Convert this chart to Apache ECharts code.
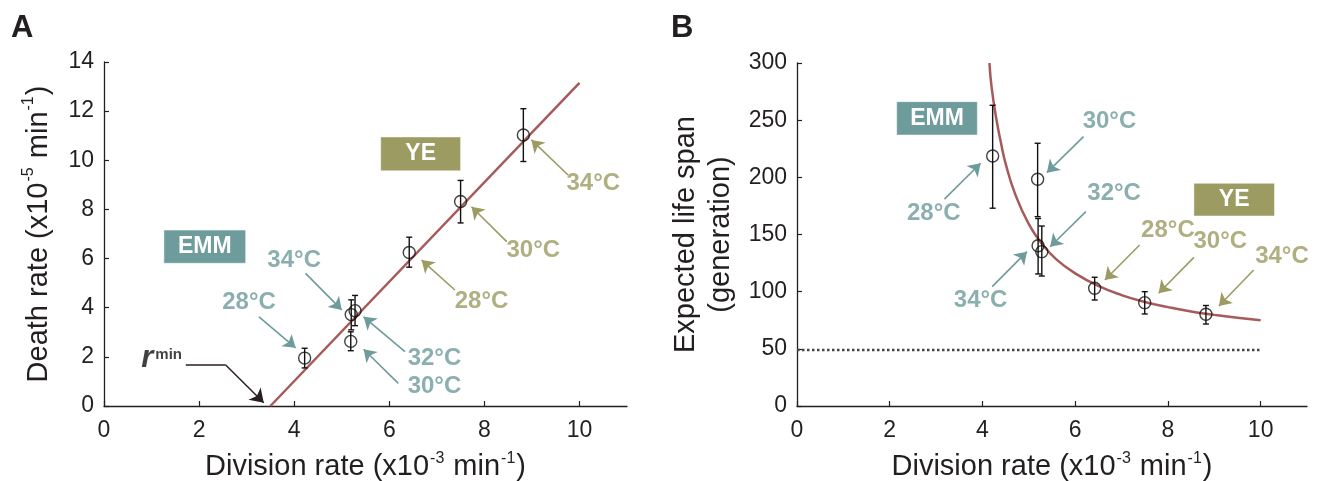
<!DOCTYPE html>
<html>
<head>
<meta charset="utf-8">
<script src="https://cdn.jsdelivr.net/npm/echarts@6/dist/echarts.min.js"></script>
<style>
  html, body { margin: 0; padding: 0; background: #fff; }
  #chart { width: 1324px; height: 481px; }
</style>
</head>
<body>
<div id="chart"></div>
<script>
// ---- data ----
var xTicks = [0, 2, 4, 6, 8, 10];

// EMM strain: 28, 30, 32, 34 C
var emmTemps = ['28°C', '30°C', '32°C', '34°C'];
var emmDiv = [4.22, 5.19, 5.28, 5.20];
var emmDeath = [1.95, 2.63, 3.88, 3.72];
var emmDeathLo = [1.55, 2.25, 3.27, 3.10];
var emmDeathHi = [2.35, 3.02, 4.50, 4.32];
var emmLife = [218.7, 198.3, 135.0, 140.2];
var emmLifeLo = [173.0, 165.6, 113.7, 115.5];
var emmLifeHi = [263.0, 229.8, 157.4, 164.0];

// YE strain: 28, 30, 34 C
var yeTemps = ['28°C', '30°C', '34°C'];
var yeDiv = [6.42, 7.50, 8.82];
var yeDeath = [6.25, 8.32, 11.03];
var yeDeathLo = [5.65, 7.45, 9.95];
var yeDeathHi = [6.87, 9.18, 12.10];
var yeLife = [103.0, 90.4, 80.2];
var yeLifeLo = [92.7, 80.5, 71.7];
var yeLifeHi = [112.6, 100.0, 87.9];

// fitted line (panel A) and fitted curve (panel B)
var fitLineA = [[3.5, 0], [10, 13.15]];
var lifeCurve = [
  [4.15, 300], [4.2, 278], [4.3, 251], [4.4, 230], [4.5, 212], [4.7, 186],
  [5.0, 159], [5.3, 141], [5.6, 128], [6.0, 116], [6.5, 105], [7.0, 97],
  [7.5, 91], [8.0, 86.5], [8.5, 82.7], [9.0, 79.7], [9.5, 77.1], [10.0, 75]
];
var lifeFloor = [[0, 49], [10, 49]];

// annotation positions (data coords): label centre, arrow start, arrow tip
var annA_emm = [
  {t: '28°C', at: [3.05, 4.21], from: [3.26, 3.63], to: [4.03, 2.37]},
  {t: '34°C', at: [4.00, 5.91], from: [4.24, 5.40], to: [5.00, 3.91]},
  {t: '32°C', at: [6.95, 1.95], from: [6.33, 2.21], to: [5.46, 3.63]},
  {t: '30°C', at: [6.95, 0.79], from: [6.19, 0.92], to: [5.46, 2.31]}
];
var annA_ye = [
  {t: '28°C', at: [7.94, 4.27], from: [7.38, 4.72], to: [6.68, 5.94]},
  {t: '30°C', at: [9.03, 6.35], from: [8.47, 6.69], to: [7.73, 8.11]},
  {t: '34°C', at: [10.29, 9.06], from: [9.76, 9.40], to: [8.99, 10.83]}
];
var annB_emm = [
  {t: '28°C', at: [2.95, 168.8], from: [3.18, 181], to: [3.96, 212.3]},
  {t: '30°C', at: [6.74, 249.3], from: [6.18, 235.6], to: [5.39, 204.1]},
  {t: '32°C', at: [6.84, 186.3], from: [6.23, 170], to: [5.46, 139.3]},
  {t: '34°C', at: [3.96, 92.7], from: [4.21, 104.4], to: [4.96, 135]}
];
var annB_ye = [
  {t: '28°C', at: [8.00, 154], from: [7.39, 140.8], to: [6.64, 110.2]},
  {t: '30°C', at: [9.13, 144.3], from: [8.56, 130], to: [7.80, 98.6]},
  {t: '34°C', at: [10.46, 131.2], from: [9.85, 119], to: [9.10, 87.5]}
];
var rminElbow = [[1.72, 1.67], [2.56, 1.67]];
var rminArrow = [[2.56, 1.67], [3.36, 0.13]];

// strain boxes [x0, y0, x1, y1]
var boxA_emm = [1.26, 5.81, 2.98, 7.16];
var boxA_ye = [5.82, 9.57, 7.50, 10.95];
var boxB_emm = [2.15, 237, 3.89, 266.2];
var boxB_ye = [8.56, 166.2, 10.30, 194.8];

// ---- styles ----
var TEAL = '#6e9b9c';
var OLIVE = '#9b9b62';
var CURVE = '#a65a5a';
var INK = '#231f20';
var FONT = "'Liberation Sans', Arial, sans-serif";

function zip(xs, ys) {
  return xs.map(function (x, i) { return [x, ys[i]]; });
}
function zipErr(xs, lo, hi) {
  return xs.map(function (x, i) { return [x, lo[i], hi[i]]; });
}

function renderErr(params, api) {
  var x = api.value(0);
  var lo = api.coord([x, api.value(1)]);
  var hi = api.coord([x, api.value(2)]);
  var w = 3;
  var st = {stroke: '#111', lineWidth: 1.4};
  return {
    type: 'group',
    children: [
      {type: 'line', shape: {x1: lo[0], y1: lo[1], x2: hi[0], y2: hi[1]}, style: st},
      {type: 'line', shape: {x1: lo[0] - w, y1: lo[1], x2: lo[0] + w, y2: lo[1]}, style: st},
      {type: 'line', shape: {x1: hi[0] - w, y1: hi[1], x2: hi[0] + w, y2: hi[1]}, style: st}
    ]
  };
}

function errSeries(idx, xs, lo, hi) {
  return {
    type: 'custom', xAxisIndex: idx, yAxisIndex: idx, z: 4,
    renderItem: renderErr, data: zipErr(xs, lo, hi), silent: true
  };
}

function pointSeries(idx, xs, ys) {
  return {
    type: 'scatter', xAxisIndex: idx, yAxisIndex: idx, z: 5,
    symbol: 'circle', symbolSize: 12,
    itemStyle: {color: 'rgba(0,0,0,0)', borderColor: '#111', borderWidth: 1.4},
    data: zip(xs, ys), silent: true
  };
}

function arrowSeries(idx, ann, color) {
  return {
    type: 'lines', coordinateSystem: 'cartesian2d', xAxisIndex: idx, yAxisIndex: idx, z: 3,
    symbol: ['none', 'arrow'], symbolSize: [0, 12],
    lineStyle: {color: color, width: 1.6, opacity: 1},
    data: ann.map(function (a) { return {coords: [a.from, a.to]}; }),
    silent: true
  };
}

function textSeries(idx, ann, color) {
  return {
    type: 'scatter', xAxisIndex: idx, yAxisIndex: idx, z: 6,
    symbolSize: 1, itemStyle: {color: 'rgba(0,0,0,0)'},
    label: {
      show: true, position: 'inside', color: color,
      fontFamily: FONT, fontWeight: 'bold', fontSize: 24,
      formatter: function (p) { return ann[p.dataIndex].t; }
    },
    data: ann.map(function (a) { return a.at; }),
    silent: true
  };
}

function boxArea(b, color, text) {
  return [{
    coord: [b[0], b[1]], name: text,
    itemStyle: {color: color, borderColor: 'rgba(255,255,255,0.5)', borderWidth: 1},
    label: {show: true, position: 'inside', color: '#fff', fontFamily: FONT, fontWeight: 'bold', fontSize: 23}
  }, {coord: [b[2], b[3]]}];
}

function xAxisFor(idx) {
  return {
    type: 'value', gridIndex: idx, min: 0, max: 11,
    axisLine: {lineStyle: {color: INK, width: 1.3}},
    axisTick: {inside: true, length: 5, customValues: xTicks, lineStyle: {color: INK, width: 1.2}},
    axisLabel: {customValues: xTicks, color: INK, fontFamily: FONT, fontSize: 23, margin: 13},
    splitLine: {show: false},
    name: 'Division rate (x10{sup|-3} min{sup|-1})',
    nameLocation: 'middle', nameGap: 45,
    nameTextStyle: {
      color: INK, fontFamily: FONT, fontSize: 29, lineHeight: 31,
      rich: {sup: {fontSize: 16, fontFamily: FONT, color: INK, verticalAlign: 'top', lineHeight: 31, padding: [0, 1, 0, 1]}}
    }
  };
}

function yAxisFor(idx, max, interval, name, gap) {
  return {
    type: 'value', gridIndex: idx, min: 0, max: max, interval: interval,
    axisLine: {show: true, lineStyle: {color: INK, width: 1.3}},
    axisTick: {show: true, inside: true, length: 5, lineStyle: {color: INK, width: 1.2}},
    axisLabel: {color: INK, fontFamily: FONT, fontSize: 23, margin: 10},
    splitLine: {show: false},
    name: name, nameLocation: 'middle', nameRotate: 90, nameGap: gap,
    nameTextStyle: {
      color: INK, fontFamily: FONT, fontSize: 29, lineHeight: 35,
      rich: {sup: {fontSize: 16, fontFamily: FONT, color: INK, verticalAlign: 'top', lineHeight: 35, padding: [0, 1, 0, 1]}}
    }
  };
}

var chart = echarts.init(document.getElementById('chart'), null, {renderer: 'canvas'});

chart.setOption({
  animation: false,
  backgroundColor: '#fff',
  textStyle: {fontFamily: FONT},
  graphic: [
    {type: 'text', left: 11, top: 13, style: {text: 'A', fontFamily: FONT, fontWeight: 'bold', fontSize: 31, fill: INK}},
    {type: 'text', left: 671, top: 13, style: {text: 'B', fontFamily: FONT, fontWeight: 'bold', fontSize: 31, fill: INK}}
  ],
  grid: [
    {left: 104, top: 62, width: 523, height: 344, containLabel: false, outerBoundsMode: 'none'},
    {left: 797, top: 63, width: 510, height: 343, containLabel: false, outerBoundsMode: 'none'}
  ],
  xAxis: [xAxisFor(0), xAxisFor(1)],
  yAxis: [
    yAxisFor(0, 14, 2, 'Death rate (x10{sup|-5} min{sup|-1})', 48),
    yAxisFor(1, 300, 50, 'Expected life span\n(generation)', 59)
  ],
  series: [
    // ---- panel A ----
    {
      type: 'line', xAxisIndex: 0, yAxisIndex: 0, data: fitLineA, showSymbol: false, z: 2,
      lineStyle: {color: CURVE, width: 2.5}, silent: true,
      markArea: {silent: true, data: [boxArea(boxA_emm, TEAL, 'EMM'), boxArea(boxA_ye, OLIVE, 'YE')]}
    },
    errSeries(0, emmDiv, emmDeathLo, emmDeathHi),
    errSeries(0, yeDiv, yeDeathLo, yeDeathHi),
    pointSeries(0, emmDiv, emmDeath),
    pointSeries(0, yeDiv, yeDeath),
    arrowSeries(0, annA_emm, TEAL),
    arrowSeries(0, annA_ye, OLIVE),
    textSeries(0, annA_emm, TEAL),
    textSeries(0, annA_ye, OLIVE),
    {
      type: 'lines', coordinateSystem: 'cartesian2d', xAxisIndex: 0, yAxisIndex: 0, z: 3,
      symbol: ['none', 'none'],
      lineStyle: {color: '#2b2020', width: 1.5, opacity: 1},
      data: [{coords: rminElbow}], silent: true
    },
    {
      type: 'lines', coordinateSystem: 'cartesian2d', xAxisIndex: 0, yAxisIndex: 0, z: 3,
      symbol: ['none', 'arrow'], symbolSize: [0, 13],
      lineStyle: {color: '#2b2020', width: 1.5, opacity: 1},
      data: [{coords: rminArrow}], silent: true
    },
    {
      type: 'scatter', xAxisIndex: 0, yAxisIndex: 0, z: 6, symbolSize: 1, itemStyle: {color: 'rgba(0,0,0,0)'},
      data: [[0.91, 1.95], [1.36, 2.08]], silent: true,
      label: {
        show: true, position: 'inside', color: INK, fontFamily: FONT, fontWeight: 'bold',
        formatter: function (p) { return p.dataIndex === 0 ? '{r|r}' : '{m|min}'; },
        rich: {
          r: {fontSize: 31, fontStyle: 'italic', fontWeight: 'bold', fontFamily: FONT, color: '#111'},
          m: {fontSize: 15, fontWeight: 'bold', fontFamily: FONT, color: '#111'}
        }
      }
    },
    // ---- panel B ----
    {
      type: 'line', xAxisIndex: 1, yAxisIndex: 1, data: lifeCurve, smooth: true, showSymbol: false, z: 2,
      lineStyle: {color: CURVE, width: 2.5}, silent: true,
      markArea: {silent: true, data: [boxArea(boxB_emm, TEAL, 'EMM'), boxArea(boxB_ye, OLIVE, 'YE')]}
    },
    {
      type: 'line', xAxisIndex: 1, yAxisIndex: 1, data: lifeFloor, showSymbol: false, z: 2,
      lineStyle: {color: '#444', width: 2.5, type: [2.5, 2.5]}, silent: true
    },
    errSeries(1, emmDiv, emmLifeLo, emmLifeHi),
    errSeries(1, yeDiv, yeLifeLo, yeLifeHi),
    pointSeries(1, emmDiv, emmLife),
    pointSeries(1, yeDiv, yeLife),
    arrowSeries(1, annB_emm, TEAL),
    arrowSeries(1, annB_ye, OLIVE),
    textSeries(1, annB_emm, TEAL),
    textSeries(1, annB_ye, OLIVE)
  ]
});
</script>
</body>
</html>
